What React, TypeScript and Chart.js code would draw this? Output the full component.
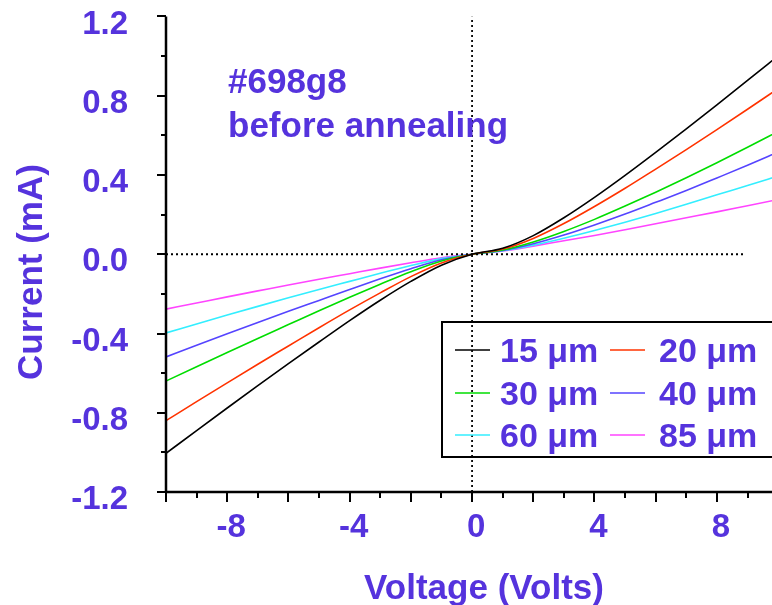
import React, { useEffect, useRef } from 'react';
import { Chart, registerables } from 'chart.js';

Chart.register(...registerables);

// ---- Data ----
const voltages = [-10, -9, -8, -7, -6, -5, -4, -3, -2, -1, 0, 1, 2, 3, 4, 5, 6, 7, 8, 9, 10];
const current15um = [-1.005, -0.89, -0.776, -0.663, -0.552, -0.443, -0.335, -0.232, -0.137, -0.055, 0, 0.03, 0.094, 0.184, 0.287, 0.398, 0.514, 0.633, 0.754, 0.877, 1.001];
const current20um = [-0.84, -0.744, -0.649, -0.555, -0.463, -0.371, -0.281, -0.195, -0.113, -0.044, 0, 0.026, 0.08, 0.155, 0.241, 0.333, 0.43, 0.528, 0.629, 0.732, 0.836];
const current30um = [-0.64, -0.568, -0.496, -0.425, -0.355, -0.285, -0.217, -0.151, -0.088, -0.034, 0, 0.021, 0.062, 0.115, 0.176, 0.243, 0.313, 0.386, 0.462, 0.54, 0.62];
const current40um = [-0.518, -0.459, -0.401, -0.344, -0.288, -0.233, -0.178, -0.124, -0.073, -0.028, 0, 0.019, 0.053, 0.097, 0.148, 0.203, 0.262, 0.322, 0.385, 0.449, 0.516];
const current60um = [-0.397, -0.352, -0.307, -0.263, -0.22, -0.178, -0.137, -0.096, -0.057, -0.022, 0, 0.018, 0.046, 0.081, 0.12, 0.162, 0.206, 0.252, 0.3, 0.347, 0.395];
const current85um = [-0.277, -0.246, -0.215, -0.185, -0.155, -0.126, -0.098, -0.07, -0.043, -0.018, 0, 0.016, 0.041, 0.068, 0.095, 0.124, 0.154, 0.184, 0.214, 0.245, 0.276];

const seriesLabels = ['15 μm', '20 μm', '30 μm', '40 μm', '60 μm', '85 μm'];
const seriesValues = [current15um, current20um, current30um, current40um, current60um, current85um];
const seriesColors = ['#000000', '#ff3300', '#00dd00', '#5544ff', '#33eeff', '#ff44ff'];

// zero reference lines (dotted)
const zeroLineVoltages = [-10, 8.9];
const zeroLineCurrents = [-1.2, 1.2];

// axes
const xMin = -10;
const xMax = 9.8;
const xLabelStep = 4;
const xMajorStep = 2;
const xMinorStep = 1;
const yMin = -1.2;
const yMax = 1.2;
const yLabelStep = 0.4;
const yMinorStep = 0.2;

const sampleName = '#698g8';
const sampleNote = 'before annealing';
const xTitle = 'Voltage (Volts)';
const yTitle = 'Current (mA)';

const TEXT_COLOR = '#5533dd';
const FONT = "'Liberation Sans', Arial, sans-serif";

const decorPlugin = {
  id: 'decor',
  afterDraw(chart: any) {
    const ctx = chart.ctx;
    const xs = chart.scales.x;
    const ys = chart.scales.y;
    const area = chart.chartArea;
    ctx.save();
    // axes lines
    ctx.strokeStyle = '#000';
    ctx.lineWidth = 2.5;
    ctx.beginPath();
    ctx.moveTo(area.left, area.top);
    ctx.lineTo(area.left, area.bottom);
    ctx.moveTo(area.left, area.bottom);
    ctx.lineTo(area.right + 5, area.bottom);
    ctx.stroke();
    // y ticks
    ctx.lineWidth = 2;
    const nY = Math.round((yMax - yMin) / yMinorStep);
    for (let i = 0; i <= nY; i++) {
      const v = yMin + i * yMinorStep;
      const p = Math.round(ys.getPixelForValue(v));
      const major = i % 2 === 0;
      ctx.beginPath();
      ctx.moveTo(area.left, p);
      ctx.lineTo(area.left - (major ? 9 : 5), p);
      ctx.stroke();
    }
    // x ticks
    const nX = Math.floor((xMax - xMin) / xMinorStep + 1e-9);
    for (let i = 0; i <= nX; i++) {
      const v = xMin + i * xMinorStep;
      const p = Math.round(xs.getPixelForValue(v));
      const major = Math.abs(v % xMajorStep) < 1e-9;
      ctx.beginPath();
      ctx.moveTo(p, area.bottom);
      ctx.lineTo(p, area.bottom + (major ? 10 : 6));
      ctx.stroke();
    }

    // axis titles
    ctx.fillStyle = TEXT_COLOR;
    ctx.font = `bold 35px ${FONT}`;
    ctx.textAlign = 'center';
    ctx.textBaseline = 'alphabetic';
    ctx.fillText(xTitle, 484, 599);
    ctx.save();
    ctx.translate(42, 272);
    ctx.rotate(-Math.PI / 2);
    ctx.fillText(yTitle, 0, 0);
    ctx.restore();

    // annotation
    ctx.font = `bold 35px ${FONT}`;
    ctx.textAlign = 'left';
    ctx.fillText(sampleName, 228, 93);
    ctx.fillText(sampleNote, 228, 137);

    // legend
    const boxL = 442, boxT = 322, boxB = 457;
    ctx.strokeStyle = '#000';
    ctx.lineWidth = 2;
    ctx.strokeRect(boxL, boxT, chart.width - boxL + 10, boxB - boxT);
    const rowsY = [350, 393, 435];
    const cols = [{ l0: 455, l1: 490, t: 500 }, { l0: 610, l1: 645, t: 659 }];
    ctx.font = `bold 34px ${FONT}`;
    chart.data.datasets.forEach((ds: any) => {
      if (!ds.legend) return;
      const idx = ds.legendIndex;
      const col = cols[idx % 2];
      const y = rowsY[Math.floor(idx / 2)];
      ctx.strokeStyle = ds.borderColor;
      ctx.lineWidth = 1.5;
      ctx.beginPath();
      ctx.moveTo(col.l0, y);
      ctx.lineTo(col.l1, y);
      ctx.stroke();
      ctx.fillStyle = TEXT_COLOR;
      ctx.textBaseline = 'alphabetic';
      ctx.fillText(ds.label, col.t, y + 12);
    });
    ctx.restore();
  },
};

export default function App() {
  const ref = useRef<HTMLCanvasElement>(null);
  useEffect(() => {
    if (!ref.current) return;
    const datasets: any[] = [
      {
        label: 'zeroV',
        data: zeroLineVoltages.map((v) => ({ x: v, y: 0 })),
        borderColor: '#000',
        borderWidth: 1.8,
        borderDash: [2, 3],
        pointRadius: 0,
        legend: false,
      },
      {
        label: 'zeroI',
        data: zeroLineCurrents.map((c) => ({ x: 0, y: c })),
        borderColor: '#000',
        borderWidth: 1.8,
        borderDash: [2, 3],
        pointRadius: 0,
        legend: false,
      },
    ];
    seriesValues.forEach((vals, i) => {
      datasets.push({
        label: seriesLabels[i],
        data: voltages.map((v, j) => ({ x: v, y: vals[j] })),
        borderColor: seriesColors[i],
        borderWidth: 1.6,
        pointRadius: 0,
        cubicInterpolationMode: 'monotone',
        legend: true,
        legendIndex: i,
      });
    });
    const chart = new Chart(ref.current, {
      type: 'line',
      data: { datasets },
      options: {
        animation: false,
        responsive: false,
        maintainAspectRatio: false,
        devicePixelRatio: 1,
        layout: { padding: { top: 16, right: 0, left: 0, bottom: 0 } },
        plugins: { legend: { display: false }, tooltip: { enabled: false } },
        scales: {
          x: {
            type: 'linear',
            min: xMin,
            max: xMax,
            afterFit: (s: any) => { s.height = 113; },
            grid: { display: false, drawTicks: false },
            border: { display: false },
            ticks: {
              stepSize: xLabelStep,
              includeBounds: false,
              padding: 19,
              labelOffset: 4,
              maxRotation: 0,
              color: TEXT_COLOR,
              font: { family: FONT, size: 33, weight: 'bold', lineHeight: 1 },
              callback: (v: any) => String(v),
            },
          },
          y: {
            type: 'linear',
            min: yMin,
            max: yMax,
            afterFit: (s: any) => { s.width = 166; },
            grid: { display: true, drawOnChartArea: false, drawTicks: true, tickLength: 38, tickColor: 'rgba(0,0,0,0)' },
            border: { display: false },
            ticks: {
              stepSize: yLabelStep,
              padding: 0,
              labelOffset: 8,
              color: TEXT_COLOR,
              font: { family: FONT, size: 33, weight: 'bold', lineHeight: 1 },
              callback: (v: any) => Number(v).toFixed(1),
            },
          },
        },
      },
      plugins: [decorPlugin],
    } as any);
    return () => chart.destroy();
  }, []);
  return (
    <div style={{ position: 'absolute', left: 0, top: 0, width: 772, height: 605, background: '#fff' }}>
      <canvas ref={ref} width={772} height={605} style={{ width: 772, height: 605 }} />
    </div>
  );
}
